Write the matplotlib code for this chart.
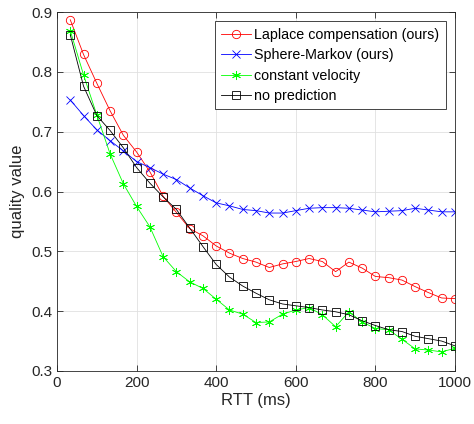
import matplotlib
matplotlib.use("Agg")
import matplotlib.pyplot as plt
import numpy as np

plt.rcParams['font.family'] = ['Liberation Sans', 'DejaVu Sans']

# RTT samples (ms)
rtt = [1000 * k / 30 for k in range(1, 31)]

laplace = [0.887, 0.829, 0.781, 0.735, 0.694, 0.666, 0.633, 0.592, 0.565, 0.538,
           0.526, 0.509, 0.497, 0.488, 0.482, 0.473, 0.479, 0.483, 0.488, 0.483,
           0.466, 0.482, 0.472, 0.458, 0.456, 0.452, 0.441, 0.431, 0.422, 0.421]
sphere = [0.753, 0.727, 0.703, 0.685, 0.668, 0.650, 0.640, 0.629, 0.620, 0.606,
          0.593, 0.581, 0.576, 0.570, 0.568, 0.564, 0.564, 0.568, 0.572, 0.573,
          0.573, 0.572, 0.569, 0.566, 0.567, 0.568, 0.572, 0.569, 0.566, 0.566]
const_vel = [0.869, 0.795, 0.728, 0.663, 0.613, 0.575, 0.541, 0.491, 0.466, 0.449,
             0.438, 0.420, 0.402, 0.395, 0.381, 0.382, 0.395, 0.402, 0.406, 0.394,
             0.374, 0.399, 0.382, 0.371, 0.369, 0.353, 0.337, 0.335, 0.332, 0.338]
no_pred = [0.862, 0.776, 0.727, 0.702, 0.673, 0.640, 0.614, 0.591, 0.570, 0.539,
           0.508, 0.478, 0.457, 0.442, 0.430, 0.419, 0.412, 0.409, 0.406, 0.402,
           0.399, 0.394, 0.384, 0.376, 0.369, 0.366, 0.358, 0.354, 0.350, 0.342]

labels = ['Laplace compensation (ours)', 'Sphere-Markov (ours)',
          'constant velocity', 'no prediction']

fig = plt.figure(figsize=(4.74, 4.24), dpi=100)
ax = fig.add_axes([57 / 474, 1 - 371 / 424, 398 / 474, 359 / 424])

axc = (0.15, 0.15, 0.15)
asterisk = (6, 2, 0)
ax.plot(rtt, laplace, '-o', color='red', lw=0.6, ms=6, mfc='none', mew=0.6, label=labels[0])
ax.plot(rtt, sphere, '-x', color='blue', lw=0.6, ms=5.5, mew=0.6, label=labels[1])
ax.plot(rtt, const_vel, '-', marker=asterisk, color=(0, 1, 0), lw=0.6, ms=6.5, mew=0.6,
        label=labels[2])
ax.plot(rtt, no_pred, '-s', color='black', lw=0.6, ms=5.5, mfc='none', mew=0.6, label=labels[3])

ax.set_xlim(0, 1000)
ax.set_ylim(0.3, 0.9)
ax.set_xticks(range(0, 1001, 200))
ax.set_yticks(np.arange(0.3, 0.91, 0.1))
ax.set_yticklabels(['0.3', '0.4', '0.5', '0.6', '0.7', '0.8', '0.9'])
ax.grid(True, color=(0.88, 0.88, 0.88), lw=0.6)
ax.set_axisbelow(True)
ax.tick_params(direction='in', top=True, right=True, length=4, width=0.6,
               colors=axc, labelsize=11, labelcolor=axc)
for s in ax.spines.values():
    s.set_color(axc)
    s.set_linewidth(0.6)

ax.set_xlabel('RTT (ms)', fontsize=12, color=axc, labelpad=2)
ax.set_ylabel('quality value', fontsize=12, color=axc, labelpad=4)

leg = ax.legend(loc='upper right', fontsize=10.3, handlelength=2.1, handletextpad=0.2,
                borderaxespad=0.65, borderpad=0.45, labelspacing=0.45, fancybox=False,
                edgecolor=axc, framealpha=1)
leg.get_frame().set_linewidth(0.6)

fig.savefig('out.png', dpi=100)
